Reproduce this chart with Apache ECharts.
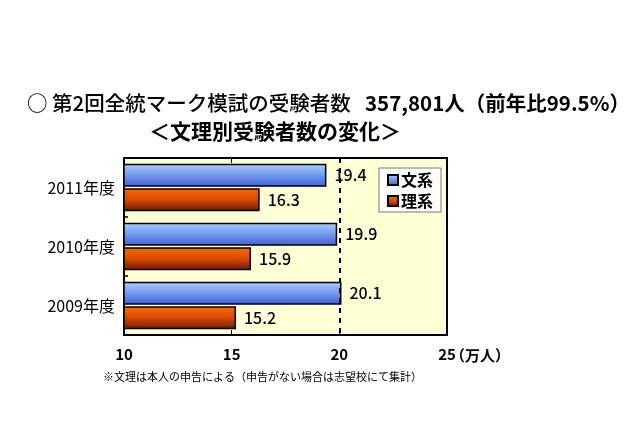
<!DOCTYPE html>
<html>
<head>
<meta charset="utf-8">
<script src="https://cdn.jsdelivr.net/npm/echarts@6/dist/echarts.min.js"></script>
<style>
html,body{margin:0;padding:0;background:#fff;}
#c{width:640px;height:426px;}
</style>
</head>
<body>
<div id="c"></div>
<script>
var categories = ['2011年度', '2010年度', '2009年度'];
var bunkei = [19.4, 19.9, 20.1];
var rikei = [16.3, 15.9, 15.2];
var seriesNames = ['文系', '理系'];
var xTicks = [10, 15, 20, 25];
var refLine = 20;

var FONT = '"Noto Sans CJK JP", "Noto Sans", sans-serif';
var chart = echarts.init(document.getElementById('c'));

var labelStyle = {
  show: true, position: 'right', distance: 8,
  color: '#000', fontSize: 16, fontWeight: 500, fontFamily: FONT,
  formatter: function (p) { return p.value.toFixed(1); }
};

chart.setOption({
  backgroundColor: '#fff',
  animation: false,
  textStyle: { fontFamily: FONT },
  grid: {
    left: 124, right: 193, top: 158, bottom: 91,
    show: true, backgroundColor: '#ffffd6',
    borderColor: '#000', borderWidth: 2, z: 0
  },
  graphic: [
    {
      type: 'text', left: 27, top: 93, z: 10,
      style: {
        text: '○ 第2回全統マーク模試の受験者数',
        fontSize: 20.5, fontFamily: FONT, fill: '#000', fontWeight: 500
      }
    },
    {
      type: 'text', left: 365, top: 93, z: 10,
      style: {
        text: '357,801人（前年比99.5%）',
        fontSize: 20.5, fontFamily: FONT, fill: '#000', fontWeight: 'bold'
      }
    },
    {
      type: 'text', left: 149, top: 121, z: 10,
      style: {
        text: '＜文理別受験者数の変化＞',
        fontSize: 21, fontWeight: 'bold', fontFamily: FONT, fill: '#000'
      }
    },
    {
      type: 'text', left: 450, top: 348, z: 10,
      style: {
        text: '（万人）',
        fontSize: 15, fontWeight: 'bold', fontFamily: FONT, fill: '#000'
      }
    },
    {
      type: 'text', left: 103, top: 371, z: 10,
      style: {
        text: '※文理は本人の申告による（申告がない場合は志望校にて集計）',
        fontSize: 11, fontFamily: FONT, fill: '#000'
      }
    }
  ],
  legend: {
    data: seriesNames,
    orient: 'vertical',
    left: 379, top: 168,
    backgroundColor: '#fff',
    borderColor: '#777', borderWidth: 1,
    padding: [4, 8, 3, 8],
    itemWidth: 10, itemHeight: 10, itemGap: 5,
    icon: 'rect',
    textStyle: { fontSize: 16, fontWeight: 'bold', color: '#000', fontFamily: FONT, padding: [0, 0, 0, -2] }
  },
  xAxis: [
    {
      type: 'value', min: xTicks[0], max: xTicks[xTicks.length - 1], interval: 5,
      axisLine: { show: false },
      axisTick: { show: true, inside: true, length: 5, lineStyle: { color: '#000', width: 1 } },
      splitLine: { show: false },
      axisLabel: {
        margin: 12, color: '#000', fontSize: 15, fontWeight: 'bold', fontFamily: FONT,
        formatter: function (v) { return xTicks.indexOf(v) >= 0 ? String(v) : ''; }
      }
    },
    {
      type: 'value', position: 'top', min: xTicks[0], max: xTicks[xTicks.length - 1], interval: 5,
      axisLine: { show: false },
      axisTick: { show: true, inside: true, length: 5, lineStyle: { color: '#000', width: 1 } },
      splitLine: { show: false },
      axisLabel: { show: false }
    }
  ],
  yAxis: {
    type: 'category', data: categories, inverse: true,
    axisLine: { show: false },
    axisTick: { show: true, inside: true, length: 4, lineStyle: { color: '#000', width: 1.5 } },
    axisLabel: { margin: 9, color: '#000', fontSize: 16, fontFamily: FONT }
  },
  series: [
    {
      name: seriesNames[0], type: 'bar', data: bunkei,
      barWidth: 23, barGap: '6%',
      itemStyle: {
        borderColor: '#000', borderWidth: 1.5,
        color: new echarts.graphic.LinearGradient(0, 0, 0, 1, [
          { offset: 0, color: '#a9d0ff' },
          { offset: 1, color: '#3a5fdc' }
        ])
      },
      label: labelStyle,
      markLine: {
        silent: true, symbol: 'none', label: { show: false },
        lineStyle: { color: '#000', type: [5, 5], width: 2 },
        data: [{ xAxis: refLine }],
        z: 5
      }
    },
    {
      name: seriesNames[1], type: 'bar', data: rikei,
      barWidth: 23,
      itemStyle: {
        borderColor: '#000', borderWidth: 1.5,
        color: new echarts.graphic.LinearGradient(0, 0, 0, 1, [
          { offset: 0, color: '#ff6a00' },
          { offset: 0.5, color: '#d84a00' },
          { offset: 1, color: '#6e1600' }
        ])
      },
      label: labelStyle
    }
  ]
});
</script>
</body>
</html>
